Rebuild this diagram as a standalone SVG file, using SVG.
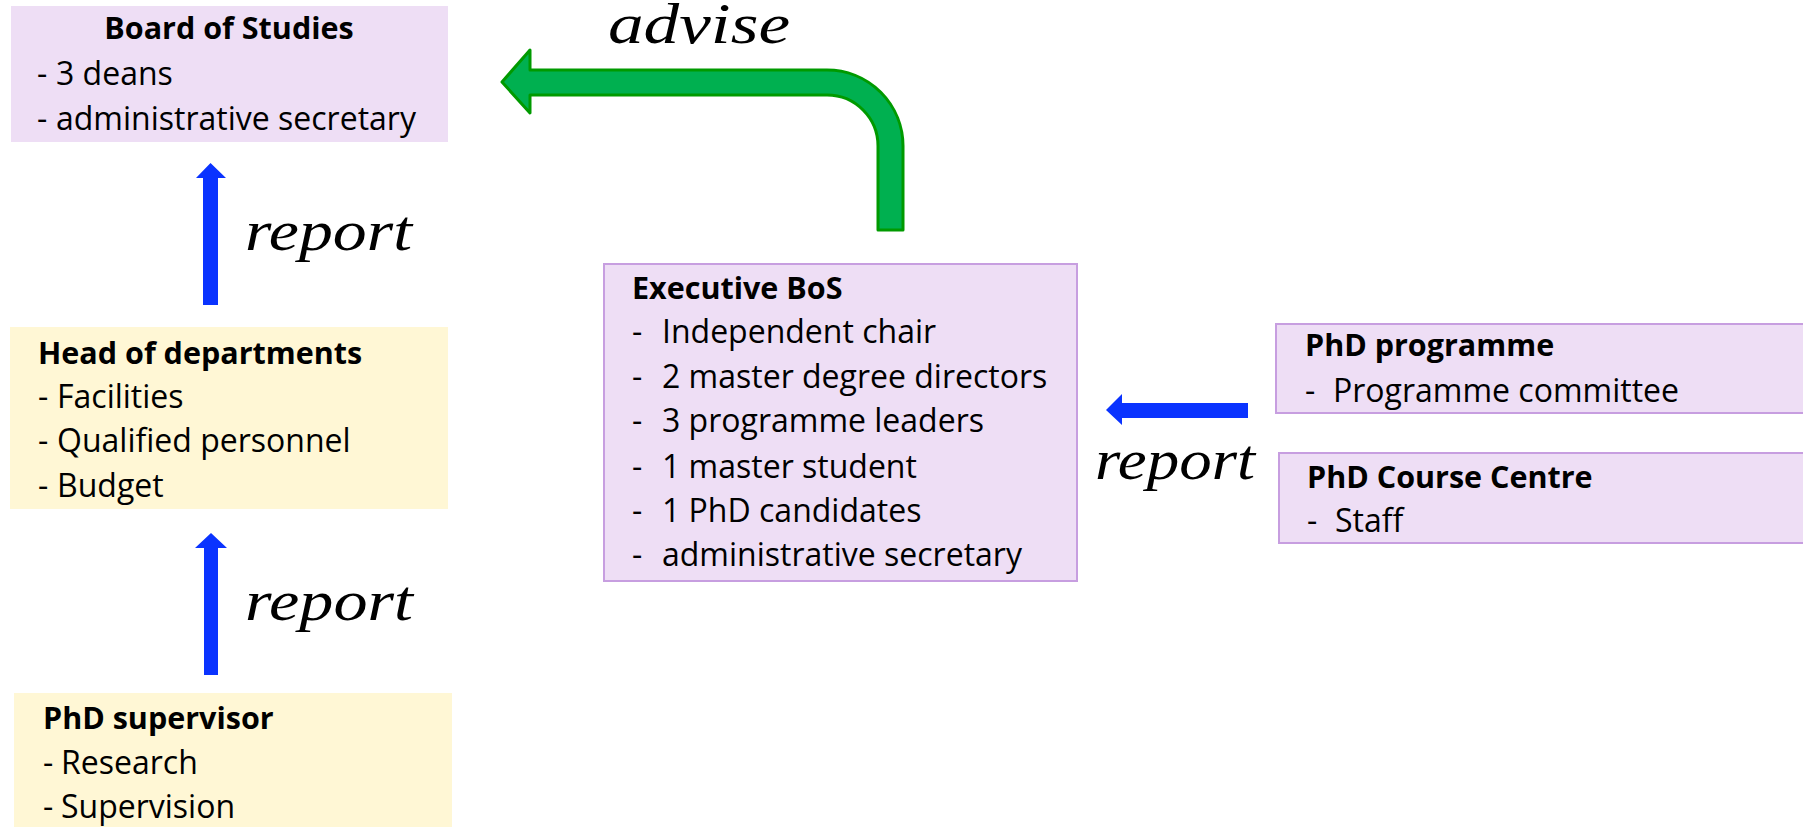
<svg xmlns="http://www.w3.org/2000/svg" width="1803" height="827" viewBox="0 0 1803 827">
<style>
.purple{fill:#EEDEF5;}
.pb{stroke:#C79EE0;stroke-width:2;}
.yellow{fill:#FFF7D5;}
.t{font-family:"Open Sans","Noto Sans",sans-serif;font-size:32px;fill:#000;}
.h{font-family:"Open Sans","Noto Sans",sans-serif;font-size:30.5px;font-weight:700;fill:#000;}
.s{font-family:"Liberation Serif","DejaVu Serif",serif;font-style:italic;font-size:58px;fill:#000;}
.blue{fill:#0A33FF;}
.green{fill:#00B050;stroke:#009A00;stroke-width:3;stroke-linejoin:round;}
</style>
<rect width="1803" height="827" fill="#FFFFFF"/>
<g id="board-of-studies">
<rect class="purple" x="11" y="6" width="437" height="136"/>
<text class="h" x="229" y="39" text-anchor="middle">Board of Studies</text>
<text class="t" y="85"><tspan x="37">-</tspan><tspan x="56">3 deans</tspan></text>
<text class="t" y="130"><tspan x="37">-</tspan><tspan x="56">administrative secretary</tspan></text>
</g>
<g id="head-of-departments">
<rect class="yellow" x="10" y="327" width="438" height="182"/>
<text class="h" x="38" y="364">Head of departments</text>
<text class="t" y="408"><tspan x="38">-</tspan><tspan x="57">Facilities</tspan></text>
<text class="t" y="452"><tspan x="38">-</tspan><tspan x="57">Qualified personnel</tspan></text>
<text class="t" y="497"><tspan x="38">-</tspan><tspan x="57">Budget</tspan></text>
</g>
<g id="phd-supervisor">
<rect class="yellow" x="14" y="693" width="438" height="140"/>
<text class="h" x="43" y="729">PhD supervisor</text>
<text class="t" y="774"><tspan x="43">-</tspan><tspan x="61">Research</tspan></text>
<text class="t" y="818"><tspan x="43">-</tspan><tspan x="61">Supervision</tspan></text>
</g>
<g id="executive-bos">
<rect class="purple pb" x="604" y="264" width="473" height="317"/>
<text class="h" x="632" y="299">Executive BoS</text>
<text class="t" y="343"><tspan x="632">-</tspan><tspan x="662">Independent chair</tspan></text>
<text class="t" y="388"><tspan x="632">-</tspan><tspan x="662">2 master degree directors</tspan></text>
<text class="t" y="432"><tspan x="632">-</tspan><tspan x="662">3 programme leaders</tspan></text>
<text class="t" y="478"><tspan x="632">-</tspan><tspan x="662">1 master student</tspan></text>
<text class="t" y="522"><tspan x="632">-</tspan><tspan x="662">1 PhD candidates</tspan></text>
<text class="t" y="566"><tspan x="632">-</tspan><tspan x="662">administrative secretary</tspan></text>
</g>
<g id="phd-programme">
<rect class="purple pb" x="1276" y="324" width="540" height="89"/>
<text class="h" x="1305" y="356">PhD programme</text>
<text class="t" y="402"><tspan x="1305">-</tspan><tspan x="1333">Programme committee</tspan></text>
</g>
<g id="phd-course-centre">
<rect class="purple pb" x="1279" y="453" width="540" height="90"/>
<text class="h" x="1307" y="488">PhD Course Centre</text>
<text class="t" y="532"><tspan x="1307">-</tspan><tspan x="1335">Staff</tspan></text>
</g>
<g id="connectors">
<path class="green" d="M 903 230 L 903 146 A 76 76 0 0 0 827 70 L 530 70 L 530 50 L 502 82 L 530 113 L 530 95 L 827 95 A 51 51 0 0 1 878 146 L 878 230 Z"/>
<text class="s" x="608" y="43" font-size="44" textLength="182" lengthAdjust="spacingAndGlyphs">advise</text>
<path class="blue" d="M 203 305 L 203 178 L 196 178 L 210.5 163 L 226 178 L 218 178 L 218 305 Z"/>
<text class="s" x="245" y="250" textLength="167" lengthAdjust="spacingAndGlyphs">report</text>
<path class="blue" d="M 204 675 L 204 548 L 195 548 L 211 533 L 227 548 L 218 548 L 218 675 Z"/>
<text class="s" x="245" y="620" textLength="168" lengthAdjust="spacingAndGlyphs">report</text>
<path class="blue" d="M 1248 403 L 1122 403 L 1122 394 L 1106 410 L 1122 425 L 1122 418 L 1248 418 Z"/>
<text class="s" x="1095" y="479" textLength="160" lengthAdjust="spacingAndGlyphs">report</text>
</g>
</svg>
